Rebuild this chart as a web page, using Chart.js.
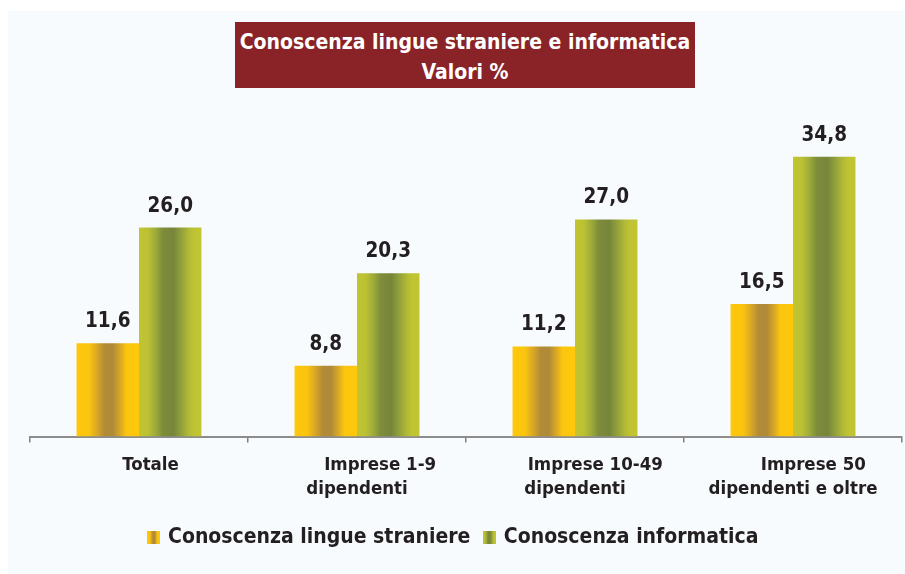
<!DOCTYPE html>
<html>
<head>
<meta charset="utf-8">
<script src="https://cdn.jsdelivr.net/npm/chart.js@4.4.1/dist/chart.umd.min.js"></script>
<style>
  html, body { margin: 0; padding: 0; background: #ffffff; }
  #wrap { position: relative; width: 905px; height: 574px; overflow: hidden; }
  #panel { position: absolute; left: 8px; top: 11px; right: 0; bottom: 0; background: #F7FBFE; }
  #title {
    position: absolute; left: 235px; top: 22px; width: 460px; height: 66px;
    box-sizing: border-box; padding-top: 5px;
    background: #8A2328; color: #ffffff; text-align: center;
    font: bold 21px 'DejaVu Sans Condensed', 'DejaVu Sans', sans-serif; line-height: 30px;
  }
  canvas { position: absolute; left: 0; top: 0; }
</style>
</head>
<body>
<div id="wrap">
  <div id="panel"></div>
  <canvas id="c" width="905" height="574"></canvas>
  <div id="title">Conoscenza lingue straniere e informatica<br>Valori %</div>
</div>
<script>
// ---- data ----
const categories = [
  ["    Totale"],
  ["        Imprese 1-9", "dipendenti"],
  ["       Imprese 10-49", "dipendenti"],
  ["       Imprese 50", "dipendenti e oltre"]
];
const seriesNames = ["Conoscenza lingue straniere", "Conoscenza informatica"];
const lingueValues = [11.6, 8.8, 11.2, 16.5];
const informaticaValues = [26.0, 20.3, 27.0, 34.8];
const yMin = 0;
const yMax = 40;

// ---- styles ----
const FONT = "'DejaVu Sans Condensed', 'DejaVu Sans', sans-serif";
const TEXT = '#231F20';
const GRAD_STOPS = [
  [[0, '#FFC80C'], [0.2, '#FBC40F'], [0.34, '#D6A527'], [0.45, '#B38B37'], [0.58, '#AF8A38'], [0.7, '#D9A825'], [0.8, '#FCC60E'], [1, '#FFC80C']],
  [[0, '#C1C532'], [0.14, '#BCC133'], [0.27, '#9CAA3A'], [0.38, '#7E8C3B'], [0.55, '#77853A'], [0.66, '#8E9D3B'], [0.8, '#B2BA36'], [0.88, '#C0C432'], [1, '#C1C532']]
];

function makeMarker(stops) {
  const cv = document.createElement('canvas');
  cv.width = 13; cv.height = 13;
  const g2 = cv.getContext('2d');
  const g = g2.createLinearGradient(0, 0, 13, 0);
  stops.forEach(s => g.addColorStop(s[0], s[1]));
  g2.fillStyle = g;
  g2.fillRect(0, 0, 13, 13);
  return cv;
}
const markers = [makeMarker(GRAD_STOPS[0]), makeMarker(GRAD_STOPS[1])];

const barGradientPlugin = {
  id: 'barGradient',
  beforeDatasetsDraw(chart) {
    const ctx = chart.ctx;
    chart.data.datasets.forEach((ds, di) => {
      const meta = chart.getDatasetMeta(di);
      meta.data.forEach(el => {
        const p = el.getProps(['x', 'width'], true);
        const g = ctx.createLinearGradient(p.x - p.width / 2, 0, p.x + p.width / 2, 0);
        GRAD_STOPS[di].forEach(s => g.addColorStop(s[0], s[1]));
        el.options.backgroundColor = g;
      });
    });
  }
};

const valueLabelPlugin = {
  id: 'valueLabels',
  afterDatasetsDraw(chart) {
    const ctx = chart.ctx;
    ctx.save();
    ctx.font = 'bold 20.5px ' + FONT;
    ctx.fillStyle = TEXT;
    ctx.textAlign = 'center';
    ctx.textBaseline = 'alphabetic';
    chart.data.datasets.forEach((ds, di) => {
      const meta = chart.getDatasetMeta(di);
      meta.data.forEach((el, i) => {
        const p = el.getProps(['x', 'y'], true);
        ctx.fillText(ds.data[i].toFixed(1).replace('.', ','), p.x, p.y - 16);
      });
    });
    ctx.restore();
  }
};

const legendShiftPlugin = {
  id: 'legendShift',
  afterLayout(chart) {
    if (chart.legend) {
      chart.legend.left -= 12;
      chart.legend.right -= 12;
    }
  }
};

new Chart(document.getElementById('c'), {
  type: 'bar',
  data: {
    labels: categories,
    datasets: [
      { label: seriesNames[0], data: lingueValues, backgroundColor: () => '#FFC80C', borderWidth: 0,
        categoryPercentage: 0.573, barPercentage: 1 },
      { label: seriesNames[1], data: informaticaValues, backgroundColor: () => '#C1C532', borderWidth: 0,
        categoryPercentage: 0.573, barPercentage: 1 }
    ]
  },
  options: {
    responsive: false,
    animation: false,
    devicePixelRatio: 1,
    layout: { padding: { left: 30, right: 3, top: 115, bottom: 16 } },
    plugins: {
      title: { display: false },
      tooltip: { enabled: false },
      legend: {
        display: true,
        position: 'bottom',
        labels: {
          usePointStyle: true,
          pointStyleWidth: 8,
          padding: 15,
          color: TEXT,
          font: { family: FONT, size: 21, weight: 'bold' },
          generateLabels(chart) {
            const items = Chart.defaults.plugins.legend.labels.generateLabels(chart);
            items.forEach((it, i) => { it.pointStyle = markers[i]; });
            return items;
          }
        }
      }
    },
    scales: {
      x: {
        offset: true,
        grid: { display: true, offset: true, drawOnChartArea: false, drawTicks: true, tickLength: 6, color: '#7F7F7F', lineWidth: 1.5 },
        border: { display: true, color: '#8C8C8C', width: 2 },
        ticks: { color: TEXT, font: { family: FONT, size: 18.5, weight: 'bold', lineHeight: 1.27 }, padding: 11, maxRotation: 0, autoSkip: false },
        afterFit(s) { s.height = 75.5; }
      },
      y: {
        display: false,
        min: yMin,
        max: yMax
      }
    }
  },
  plugins: [barGradientPlugin, valueLabelPlugin, legendShiftPlugin]
});
</script>
</body>
</html>
